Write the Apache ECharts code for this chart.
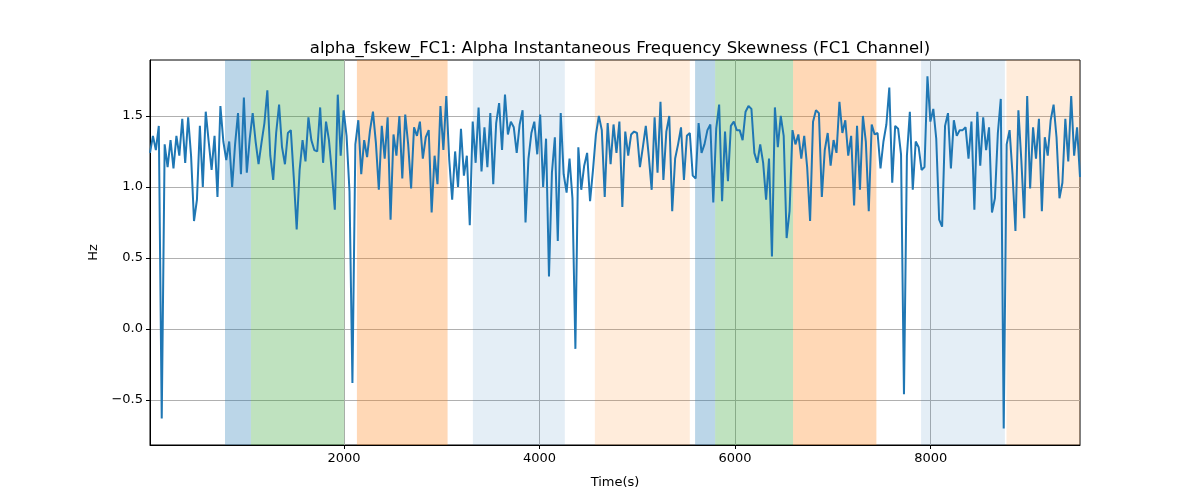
<!DOCTYPE html>
<html>
<head>
<meta charset="utf-8">
<script src="https://cdn.jsdelivr.net/npm/echarts@6/dist/echarts.min.js"></script>
<style>html,body{margin:0;padding:0;background:#fff}#c{width:1200px;height:500px}</style>
</head>
<body>
<div id="c"></div>
<script>
// ---- data ----
const TITLE = 'alpha_fskew_FC1: Alpha Instantaneous Frequency Skewness (FC1 Channel)';
const T_START = 17;      // first sample time (s)
const T_STEP = 30;       // sample spacing (s)
const X_MIN = 17, X_MAX = 9527;
const Y_MIN = -0.817, Y_MAX = 1.894;
const xTicks = [2000, 4000, 6000, 8000];
const yTicks = [-0.5, 0.0, 0.5, 1.0, 1.5];

const values = [
1.24,1.36,1.26,1.43,-0.63,1.30,1.14,1.33,1.13,1.36,1.22,1.48,1.17,1.49,1.22,0.76,0.91,1.43,1.00,1.53,
1.32,1.12,1.36,0.93,1.57,1.32,1.19,1.32,1.00,1.30,1.52,1.09,1.63,1.10,1.34,1.52,1.32,1.16,1.31,1.45,
1.68,1.22,1.05,1.38,1.58,1.28,1.16,1.38,1.40,1.07,0.70,1.12,1.33,1.18,1.49,1.33,1.26,1.25,1.56,1.17,
1.46,1.33,1.10,0.84,1.65,1.22,1.54,1.36,0.97,-0.38,1.30,1.47,1.09,1.33,1.21,1.40,1.53,1.31,0.98,1.43,
1.20,1.49,0.77,1.37,1.22,1.50,1.06,1.51,1.30,0.99,1.42,1.36,1.46,1.20,1.35,1.40,0.82,1.22,1.02,1.57,
1.26,1.64,1.19,0.91,1.25,1.00,1.41,1.08,1.22,0.73,1.46,1.17,1.56,1.11,1.42,1.14,1.52,1.02,1.45,1.59,
1.26,1.65,1.37,1.46,1.42,1.24,1.44,1.54,0.75,1.20,1.38,1.46,1.23,1.51,1.00,1.34,0.37,1.10,1.35,0.62,
1.52,1.09,0.96,1.20,0.92,-0.14,1.28,0.98,1.15,1.24,0.90,1.12,1.37,1.50,1.40,0.93,1.45,1.16,1.44,1.24,
1.46,0.86,1.39,1.22,1.37,1.39,1.38,1.14,1.28,1.43,1.22,0.98,1.49,1.10,1.60,1.05,1.39,1.50,0.83,1.20,
1.30,1.42,1.05,1.36,1.38,1.08,1.06,1.45,1.24,1.30,1.40,1.44,0.89,1.41,1.58,0.90,1.39,1.04,1.43,1.46,
1.40,1.40,1.33,1.53,1.57,1.55,1.24,1.17,1.30,1.17,0.91,1.20,0.51,1.56,1.28,1.50,1.36,0.64,0.83,1.40,
1.30,1.37,1.20,1.36,1.14,0.76,1.46,1.54,1.52,0.93,1.26,1.38,1.15,1.33,1.24,1.60,1.38,1.47,1.22,1.36,
0.87,1.43,0.98,1.50,1.32,0.83,1.44,1.37,1.38,1.13,1.32,1.44,1.70,1.03,1.43,1.41,1.23,-0.46,1.22,1.53,
0.98,1.32,1.28,1.12,1.14,1.78,1.46,1.55,1.34,0.77,0.72,1.43,1.52,1.13,1.47,1.36,1.40,1.40,1.42,1.20,
1.46,0.84,1.53,1.15,1.49,1.26,1.42,0.82,0.92,1.38,1.62,-0.70,1.30,1.40,1.09,0.69,1.54,1.19,0.78,1.64,
0.99,1.42,1.20,1.48,0.83,1.35,1.22,1.47,1.58,1.35,0.92,1.03,1.48,1.18,1.64,1.22,1.42,1.07
];

// shaded phases: [start, end, kind]
const spanStarts = [784, 1049, 2133, 3319, 4566, 5591, 5796, 6593, 7902, 8775];
const spanEnds   = [1049, 2003, 3060, 4259, 5537, 5796, 6593, 7445, 8759, 9527];
const spanKinds  = ['blueDark','green','orange','blueLight','orangeLight','blueDark','green','orange','blueLight','orangeLight'];

const spanColors = {
  blueDark: 'rgba(31,119,180,0.3)',
  green: 'rgba(44,160,44,0.3)',
  orange: 'rgba(255,127,14,0.3)',
  blueLight: 'rgba(31,119,180,0.12)',
  orangeLight: 'rgba(255,127,14,0.15)'
};

const lineData = values.map((v, i) => [T_START + i * T_STEP, v]);
const areas = spanStarts.map((s, i) => [
  {xAxis: s, itemStyle: {color: spanColors[spanKinds[i]]}},
  {xAxis: spanEnds[i]}
]);

const fmt = v => (v < 0 ? '\u2212' : '') + Math.abs(v).toFixed(1);
const font = 'DejaVu Sans';

const chart = echarts.init(document.getElementById('c'), null, {renderer: 'canvas'});
chart.setOption({
  animation: false,
  backgroundColor: '#ffffff',
  title: {
    text: TITLE, left: 615, top: 35, textAlign: 'center',
    textStyle: {fontFamily: font, fontSize: 16.5, fontWeight: 'normal', color: '#000'}
  },
  grid: {left: 150, right: 120, top: 60, bottom: 55, show: true, borderColor: '#000', borderWidth: 1, backgroundColor: 'transparent', z: 1},
  xAxis: {
    type: 'value', min: X_MIN, max: X_MAX, z: 1,
    name: 'Time(s)', nameLocation: 'middle', nameGap: 31,
    nameTextStyle: {fontFamily: font, fontSize: 13, color: '#000'},
    axisLine: {show: true, onZero: false, lineStyle: {color: '#000', width: 1}},
    axisTick: {show: true, length: 4, lineStyle: {color: '#000'}, customValues: xTicks},
    axisLabel: {fontFamily: font, fontSize: 13, color: '#000', margin: 7, customValues: xTicks, formatter: v => String(v)},
    splitLine: {show: true, lineStyle: {color: '#b0b0b0', width: 1}}
  },
  yAxis: {
    type: 'value', min: Y_MIN, max: Y_MAX, z: 1,
    name: 'Hz', nameLocation: 'middle', nameGap: 50, nameRotate: 90,
    nameTextStyle: {fontFamily: font, fontSize: 13, color: '#000'},
    axisLine: {show: true, onZero: false, lineStyle: {color: '#000', width: 1}},
    axisTick: {show: true, length: 4, lineStyle: {color: '#000'}, customValues: yTicks},
    axisLabel: {fontFamily: font, fontSize: 13, color: '#000', margin: 7, customValues: yTicks, formatter: fmt},
    splitLine: {show: true, lineStyle: {color: '#b0b0b0', width: 1}}
  },
  series: [
    {
      type: 'line', data: [], z: 0, silent: true,
      markArea: {silent: true, data: areas}
    },
    {
      type: 'line', data: lineData, z: 2, showSymbol: false, symbol: 'none',
      lineStyle: {color: '#1f77b4', width: 2}, itemStyle: {color: '#1f77b4'}
    }
  ]
});
</script>
</body>
</html>
